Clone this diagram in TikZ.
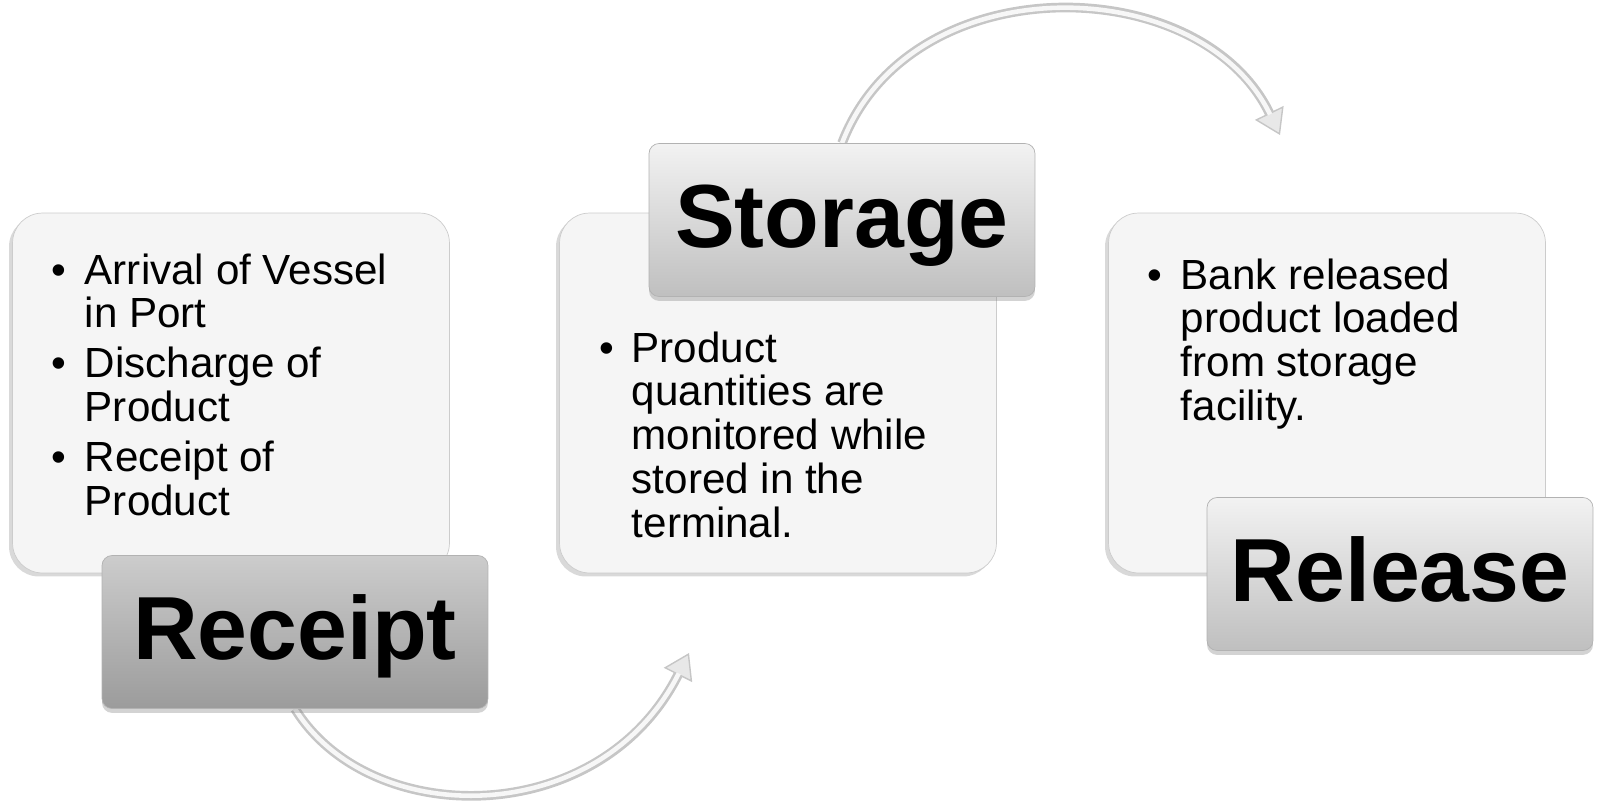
\documentclass[tikz,border=0pt]{standalone}
\usepackage{fontspec}
\setmainfont{Liberation Sans}
\usetikzlibrary{arrows.meta,shadows,backgrounds}

\newcommand{\bl}{\textbullet}

\begin{document}
\begin{tikzpicture}[
        x=0.02cm, y=-0.02cm,
        infobox/.style={rectangle, rounded corners=0.6cm, draw=gray!40,
                        fill=gray!8, minimum width=8.74cm, minimum height=7.2cm,
                        drop shadow={opacity=0.3, shadow xshift=-2pt,
                                     shadow yshift=-2pt}},
        stage/.style={rectangle, rounded corners=0.2cm, draw=gray!60,
                      minimum width=7.72cm, minimum height=3.06cm,
                      font=\fontsize{51}{55}\selectfont\bfseries,
                      text height=41pt, text depth=10pt,
                      drop shadow={opacity=0.35, shadow xshift=0pt,
                                   shadow yshift=-2.5pt}},
        stagedark/.style={stage, top color=gray!40, bottom color=gray!78},
        stagelight/.style={stage, top color=gray!10, bottom color=gray!50},
        txt/.style={anchor=base west, inner sep=0pt,
                    font=\fontsize{24}{25}\selectfont},
        flow/.style={line width=5.5pt, draw=gray!45,
                     -{Triangle[length=14pt, width=18pt, fill=gray!18,
                                line width=0.8pt]}},
        glint/.style={line width=2.6pt, draw=gray!6, shorten >=13pt},
      ]
        \useasboundingbox (0,0) rectangle (1599,806);

        % panels with the bullet texts
        \foreach \nm/\x in {receipt/231,storage/778,release/1327} {
          \node[infobox] (\nm-box) at (\x,393) {};
        }

        \node[txt] (receipt-txt) at (51,284)
          {\begin{tabular}[t]{@{}p{0.67cm}@{}l@{}}
            \bl & Arrival of Vessel\\ & in Port\\[3.4pt]
            \bl & Discharge of\\ & Product\\[3.4pt]
            \bl & Receipt of\\ & Product
           \end{tabular}};
        \node[txt] (storage-txt) at (599,362)
          {\begin{tabular}[t]{@{}p{0.65cm}@{}l@{}}
            \bl & Product\\ & quantities are\\ & monitored while\\
                & stored in the\\ & terminal.
           \end{tabular}};
        \node[txt] (release-txt) at (1147,289)
          {\begin{tabular}[t]{@{}p{0.67cm}@{}l@{}}
            \bl & Bank released\\ & product loaded\\ & from storage\\
                & facility.
           \end{tabular}};

        % stage labels
        \node[stagedark] (receipt) at (295,632) {Receipt};
        \node[stagelight] (storage) at (842,220) {Storage};
        \node[stagelight] (release) at (1400,574) {Release};

        % curved arrows, under the labels
        \coordinate (to-storage) at (689,653);
        \coordinate (to-release) at (1280,135);
        \begin{scope}[on background layer]
          \draw[flow] (receipt.south) .. controls (370,830) and (600,830) .. (to-storage);
          \draw[glint] (receipt.south) .. controls (370,830) and (600,830) .. (to-storage);
          \draw[flow] (storage.north) .. controls (910,-35) and (1200,-30) .. (to-release);
          \draw[glint] (storage.north) .. controls (910,-35) and (1200,-30) .. (to-release);
        \end{scope}
      \end{tikzpicture}
\end{document}
